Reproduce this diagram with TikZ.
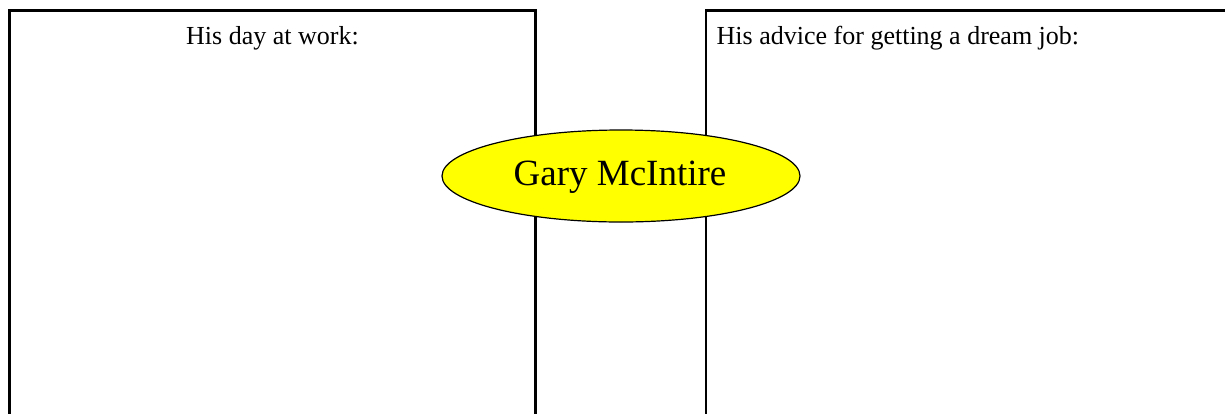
\documentclass[tikz,border=0pt]{standalone}
\usepackage{fontspec}
\setmainfont{Liberation Serif}
\usetikzlibrary{shapes.geometric}
\definecolor{pureyellow}{RGB}{255,255,0}
\begin{document}
\begin{tikzpicture}[x=1pt,y=-1pt,
  panel/.style={draw=black,line width=2.6pt},
  label/.style={font=\fontsize{26}{30}\selectfont,inner sep=0pt,anchor=base},
  namebox/.style={ellipse,draw=black,line width=1.2pt,fill=pureyellow,
    minimum width=358pt,minimum height=92pt,inner sep=0pt,
    font=\fontsize{37}{42}\selectfont}]
\useasboundingbox (0,0) rectangle (1225,413);
\draw[panel] (9.5,430) -- (9.5,10.5) -- (535.5,10.5) -- (535.5,430);
\draw[panel] (706,430) -- (706,10.5) -- (1240,10.5);
\node[label] (work) at (272.5,44) {His day at work:};
\node[label,anchor=base west] (advice) at (716.5,44) {His advice for getting a dream job:};
\node[namebox] (gary) at (621,176) {};
\node[font=\fontsize{37}{42}\selectfont,inner sep=0pt,anchor=base] (garyname) at (620,185) {Gary McIntire};
\end{tikzpicture}
\end{document}
